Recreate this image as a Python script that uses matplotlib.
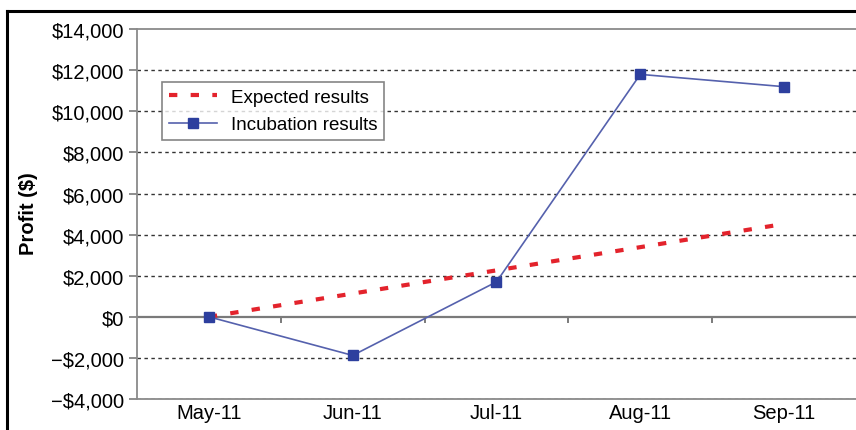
import matplotlib.pyplot as plt
from matplotlib.lines import Line2D

plt.rcParams['font.family'] = ['Liberation Sans', 'DejaVu Sans']

months = ['May-11', 'Jun-11', 'Jul-11', 'Aug-11', 'Sep-11']
expected = [0, 1130, 2260, 3390, 4520]
incubation = [0, -1880, 1700, 11800, 11200]
yticks = list(range(-4000, 14001, 2000))


def money(v):
    if v < 0:
        return '\u2212${:,}'.format(-v)
    return '${:,}'.format(v)


fig = plt.figure(figsize=(8.56, 4.31), dpi=100)
ax = fig.add_axes([0.160, 0.072, 0.840, 0.858])

x = list(range(len(months)))

# grid lines
for v in yticks:
    if v in (0, 14000):
        continue
    ax.axhline(v, color='#333333', lw=1.0, ls=(0, (2.5, 2.5)), zorder=1)
ax.axhline(0, color='#7a7a7a', lw=1.6, zorder=2)

ax.plot(x, expected, color='#e3232c', lw=3.0, ls=(0, (2.0, 3.2)),
        label='Expected results', zorder=3)
ax.plot(x, incubation, color='#5561ad', lw=1.2, marker='s', ms=7,
        mfc='#2d3f9e', mec='#2d3f9e', label='Incubation results', zorder=4)

# category ticks between months on the zero line
for b in [0.5, 1.5, 2.5, 3.5]:
    ax.plot([b, b], [0, -250], color='#7a7a7a', lw=1.4, zorder=2)

ax.set_xlim(-0.5, 4.5)
ax.set_ylim(-4000, 14000)
ax.set_xticks(x)
ax.set_xticklabels(months, fontsize=14.5)
ax.tick_params(axis='x', length=0, pad=3)
ax.set_yticks(yticks)
ax.set_yticklabels([money(v) for v in yticks], fontsize=14.5)
ax.tick_params(axis='y', length=6, width=1.2, color='#7a7a7a', pad=3)

for s in ['left', 'top', 'bottom']:
    ax.spines[s].set_color('#8a8a8a')
    ax.spines[s].set_linewidth(1.3)
ax.spines['right'].set_visible(False)

ax.set_ylabel('Profit ($)', fontsize=14.5, fontweight='bold')
ax.yaxis.set_label_coords(-0.137, 0.505)

leg = ax.legend(loc='upper left', bbox_to_anchor=(0.035, 0.857), fontsize=13.5,
                frameon=True, fancybox=False, handlelength=2.6,
                borderpad=0.35, labelspacing=0.55, handletextpad=0.7,
                borderaxespad=0)
leg.get_frame().set_edgecolor('#666666')
leg.get_frame().set_linewidth(1.2)

# outer black frame (top and left edges visible)
fig.add_artist(Line2D([0.008, 1.0], [0.972, 0.972], color='black', lw=2.2,
                      transform=fig.transFigure))
fig.add_artist(Line2D([0.008, 0.008], [0.0, 0.972], color='black', lw=2.2,
                      transform=fig.transFigure))

fig.savefig('out.png', dpi=100)
